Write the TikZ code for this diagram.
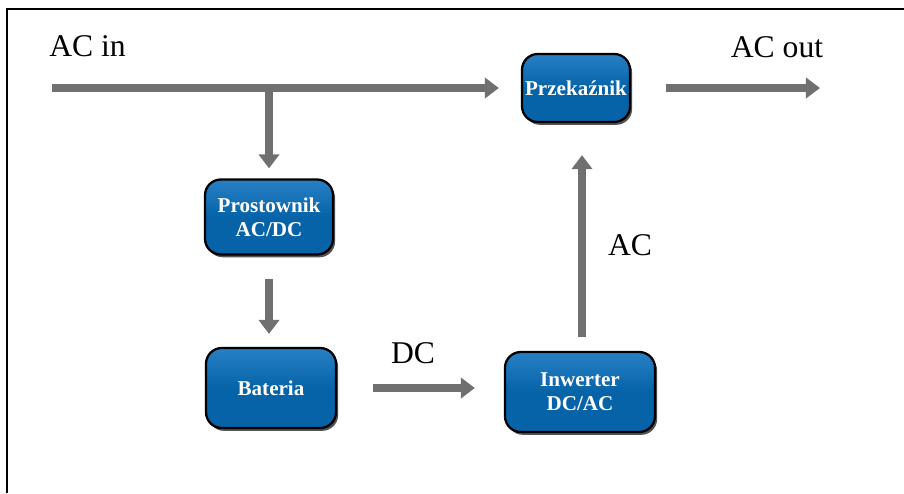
\documentclass[tikz,border=0pt]{standalone}
\usepackage{fontspec}
\setmainfont{Liberation Serif}
\usepackage{tikz}
\usetikzlibrary{arrows.meta,positioning,calc,shadows}
\definecolor{boxblue}{RGB}{6,99,168}
\definecolor{boxtop}{RGB}{40,128,196}
\definecolor{arrowgray}{RGB}{112,112,112}

\begin{document}
\begin{tikzpicture}[
    every node/.style={font=\fontsize{18}{20}\selectfont},
    block/.style={rectangle, draw=black, line width=1.3pt, top color=boxtop, bottom color=boxblue, middle color=boxblue,
        text=white, font=\fontsize{12}{13.5}\selectfont\bfseries, align=center, rounded corners=9pt, inner sep=1pt,
        drop shadow={shadow xshift=1.2pt, shadow yshift=-1.6pt, fill=black!75, opacity=0.9}},
    arrow/.style={-{Triangle[width=11.5pt,length=8pt]}, line width=4.2pt, draw=arrowgray}
]

\useasboundingbox (0,0) rectangle (18.08,-9.86);

% Frame
\draw[line width=1.2pt] (0.14,-9.86) -- (0.14,-0.18) -- (18.08,-0.18);

% Blocks
\node[block, minimum width=2.16cm, minimum height=1.36cm] (relay) at (11.52,-1.76) {Przekaźnik};
\node[block, minimum width=2.56cm, minimum height=1.5cm] (rect) at (5.38,-4.34) {Prostownik\\AC/DC};
\node[block, minimum width=2.6cm, minimum height=1.6cm] (bat) at (5.42,-7.76) {Bateria};
\node[block, minimum width=3.0cm, minimum height=1.6cm] (inv) at (11.6,-7.84) {Inwerter\\DC/AC};

% Free ends
\coordinate (acin) at (1.04,-1.76);
\coordinate (acout) at (16.4,-1.76);
\coordinate (split) at (rect.north |- acin);

% Labels
\node (lacin) at (1.75,-0.93) {AC in};
\node (lacout) at (15.54,-0.94) {AC out};
\node (ldc) at (8.26,-7.06) {DC};
\node (lac) at (12.6,-4.9) {AC};

% Connections
\draw[arrow, shorten >=0.44cm] (acin) -- (relay.west);
\draw[arrow, shorten <=0.7cm] (relay.east) -- (acout);
\draw[arrow, shorten >=0.2cm] (split) -- (rect.north);
\draw[arrow, shorten <=0.46cm, shorten >=0.26cm] (rect.south) -- (rect.south |- bat.north);
\draw[arrow, shorten <=0.72cm, shorten >=0.58cm] (bat.east) -- (inv.west |- bat.east);
\draw[arrow, shorten <=0.28cm, shorten >=0.64cm] ($(inv.north)+(0.04,0)$) -- ($(inv.north |- relay.south)+(0.04,0)$);

\end{tikzpicture}
\end{document}
